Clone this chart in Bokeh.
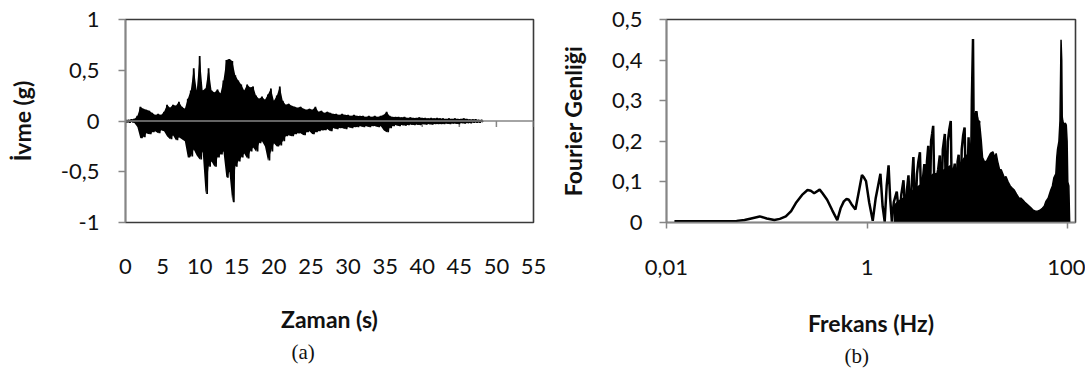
from bokeh.plotting import figure
from bokeh.layouts import row
from bokeh.models import Range1d, FixedTicker, CustomJSTickFormatter, Span, Title
from bokeh.embed import file_html
from bokeh.resources import INLINE

# ---------------- (a) acceleration record ----------------
DT = 0.4  # seconds between envelope readings
acc_upper = [
    0.01, 0.01, 0.015, 0.02, 0.05, 0.14, 0.12, 0.11, 0.10, 0.08,
    0.06, 0.07, 0.06, 0.09, 0.16, 0.13, 0.16, 0.15, 0.19, 0.14,
    0.12, 0.22, 0.30, 0.52, 0.30, 0.64, 0.30, 0.32, 0.52, 0.30,
    0.28, 0.31, 0.27, 0.40, 0.60, 0.61, 0.59, 0.45, 0.40, 0.36,
    0.30, 0.36, 0.33, 0.34, 0.25, 0.22, 0.24, 0.21, 0.26, 0.32,
    0.20, 0.25, 0.34, 0.20, 0.16, 0.17, 0.15, 0.14, 0.13, 0.14,
    0.12, 0.11, 0.12, 0.11, 0.14, 0.09, 0.10, 0.08, 0.09, 0.08,
    0.07, 0.07, 0.06, 0.07, 0.06, 0.06, 0.05, 0.06, 0.05, 0.05,
    0.05, 0.04, 0.05, 0.04, 0.05, 0.04, 0.05, 0.06, 0.09, 0.05,
    0.04, 0.04, 0.04, 0.035, 0.04, 0.03, 0.035, 0.03, 0.03, 0.035,
    0.03, 0.03, 0.025, 0.03, 0.025, 0.03, 0.025, 0.025, 0.02, 0.025,
    0.02, 0.025, 0.02, 0.02, 0.025, 0.02, 0.015, 0.015, 0.015, 0.01,
    0.01,
]
acc_lower = [
    -0.01, -0.015, -0.01, -0.02, -0.06, -0.17, -0.16, -0.12, -0.13, -0.11,
    -0.10, -0.12, -0.09, -0.10, -0.15, -0.18, -0.14, -0.19, -0.16, -0.18,
    -0.20, -0.36, -0.35, -0.28, -0.34, -0.38, -0.30, -0.72, -0.45, -0.40,
    -0.45, -0.36, -0.33, -0.30, -0.56, -0.50, -0.80, -0.45, -0.40, -0.36,
    -0.32, -0.37, -0.30, -0.26, -0.30, -0.22, -0.20, -0.25, -0.39, -0.30,
    -0.22, -0.25, -0.24, -0.20, -0.15, -0.14, -0.15, -0.13, -0.12, -0.12,
    -0.14, -0.11, -0.10, -0.13, -0.11, -0.10, -0.09, -0.09, -0.08, -0.10,
    -0.07, -0.08, -0.07, -0.07, -0.08, -0.06, -0.07, -0.06, -0.06, -0.05,
    -0.06, -0.05, -0.06, -0.05, -0.05, -0.06, -0.05, -0.09, -0.11, -0.07,
    -0.05, -0.04, -0.05, -0.04, -0.045, -0.04, -0.035, -0.04, -0.035, -0.04,
    -0.03, -0.035, -0.03, -0.035, -0.03, -0.03, -0.03, -0.03, -0.025, -0.03,
    -0.025, -0.025, -0.03, -0.02, -0.025, -0.02, -0.02, -0.015, -0.015, -0.015,
    -0.01,
]
time_ticks = [0, 5, 10, 15, 20, 25, 30, 35, 40, 45, 50, 55]
acc_ticks = [-1, -0.5, 0, 0.5, 1]

# ---------------- (b) Fourier amplitude spectrum ----------------
spec_f = [
    0.012, 0.02, 0.03, 0.04, 0.05, 0.06, 0.07, 0.085, 0.10, 0.119,
    0.135, 0.155, 0.175, 0.195, 0.225, 0.255, 0.275, 0.297, 0.337, 0.36,
    0.40, 0.45, 0.505, 0.545, 0.587, 0.625, 0.659, 0.70, 0.766, 0.82,
    0.89, 0.935, 0.977, 1.05, 1.14, 1.22, 1.31, 1.36, 1.43, 1.50,
    1.57, 1.64, 1.70, 1.77, 1.85, 1.98, 2.10, 2.20, 2.31, 2.42,
    2.50, 2.59, 2.70, 2.80, 2.90, 3.02, 3.15, 3.25, 3.37, 3.50,
    3.62, 3.73, 3.86, 3.96, 4.08, 4.22, 4.35, 4.47, 4.57, 4.75,
    4.95, 5.12, 5.32, 5.48, 5.70, 5.97, 6.15, 6.40, 6.62, 6.84,
    7.05, 7.25, 7.50, 7.80, 8.00, 8.20, 8.50, 8.80, 9.10, 9.40,
    9.80, 10.3, 10.8, 11.1, 11.4, 11.7, 12.0, 12.3, 12.8, 13.2,
]
spec_a = [
    0.003, 0.003, 0.003, 0.003, 0.004, 0.006, 0.010, 0.015, 0.010, 0.006,
    0.009, 0.015, 0.028, 0.048, 0.068, 0.080, 0.078, 0.072, 0.081, 0.072,
    0.056, 0.030, 0.006, 0.035, 0.052, 0.058, 0.056, 0.045, 0.032, 0.070,
    0.117, 0.110, 0.102, 0.050, 0.004, 0.060, 0.099, 0.120, 0.040, 0.002,
    0.090, 0.141, 0.060, 0.002, 0.050, 0.076, 0.010, 0.070, 0.104, 0.005,
    0.080, 0.116, 0.010, 0.100, 0.161, 0.005, 0.120, 0.150, 0.173, 0.010,
    0.110, 0.144, 0.010, 0.150, 0.189, 0.020, 0.200, 0.220, 0.238, 0.010,
    0.110, 0.130, 0.165, 0.020, 0.180, 0.218, 0.020, 0.200, 0.230, 0.250,
    0.020, 0.120, 0.145, 0.030, 0.150, 0.167, 0.010, 0.180, 0.215, 0.234,
    0.010, 0.210, 0.020, 0.300, 0.452, 0.060, 0.250, 0.274, 0.240, 0.250,
]
band_f = [
    1.85, 2.0, 2.3, 2.6, 2.9, 3.3, 3.7, 4.1, 4.6, 5.2,
    5.9, 6.8, 7.5, 8.2, 9.4, 10.3, 11.0, 12.3, 12.8, 13.2,
    13.8, 14.2, 14.8, 15.5, 16.2, 17.0, 18.0, 18.8, 19.4, 20.1,
    21.0, 21.8, 22.6, 23.4, 24.3, 25.5, 26.8, 28.0, 29.4, 31.0,
    32.8, 34.2, 35.6, 37.5, 39.5, 41.5, 43.1, 45.5, 48.0, 50.1,
    53.0, 56.0, 58.5, 60.8, 64.0, 68.0, 70.6, 73.0, 76.4, 78.0,
    79.4, 82.0, 84.0, 86.1, 87.5, 88.5, 89.7, 92.0, 95.0, 97.1,
    99.0, 100.5, 103.0, 105.0,
]
band_a = [
    0.04, 0.05, 0.06, 0.07, 0.08, 0.09, 0.10, 0.11, 0.12, 0.12,
    0.13, 0.14, 0.12, 0.14, 0.16, 0.17, 0.20, 0.274, 0.25, 0.25,
    0.20, 0.16, 0.15, 0.15, 0.16, 0.17, 0.174, 0.16, 0.17, 0.15,
    0.13, 0.13, 0.12, 0.11, 0.113, 0.10, 0.09, 0.085, 0.080, 0.07,
    0.06, 0.06, 0.056, 0.05, 0.045, 0.04, 0.036, 0.03, 0.028, 0.028,
    0.03, 0.035, 0.04, 0.052, 0.06, 0.08, 0.09, 0.11, 0.12, 0.16,
    0.18, 0.20, 0.25, 0.45, 0.40, 0.26, 0.25, 0.24, 0.245, 0.24,
    0.20, 0.10, 0.09, 0.0,
]
freq_ticks = [0.01, 1, 100]
amp_ticks = [0, 0.1, 0.2, 0.3, 0.4, 0.5]

# ---------------- styling ----------------
TICK_FONT = "Lato"
TICK_SIZE = "22px"
TITLE_SIZE = "23px"
AXIS_GRAY = "#868686"
TEXT_COL = "#111111"
OUTLINE = "#3a3a3a"

comma_fmt = CustomJSTickFormatter(code="return (Math.round(tick*10)/10).toString().replace('.', ',');")
log_fmt = CustomJSTickFormatter(code="return tick.toString().replace('.', ',');")


def style_common(p):
    p.xgrid.visible = False
    p.ygrid.visible = False
    p.outline_line_color = OUTLINE
    p.outline_line_width = 1.6
    p.background_fill_color = "white"
    p.border_fill_color = "white"
    for ax in (p.xaxis[0], p.yaxis[0]):
        ax.major_label_text_font = TICK_FONT
        ax.major_label_text_font_size = TICK_SIZE
        ax.major_label_text_color = TEXT_COL
        ax.axis_label_text_font = TICK_FONT
        ax.axis_label_text_font_size = TITLE_SIZE
        ax.axis_label_text_font_style = "bold"
        ax.axis_label_text_color = TEXT_COL
        ax.minor_tick_line_color = None
        ax.major_tick_in = 0


def caption(text, offset):
    return Title(text=text, align="left", offset=offset, standoff=5,
                 text_font="Liberation Serif", text_font_size="21px",
                 text_font_style="normal", text_color=TEXT_COL)


# ---------- left: time history ----------
p1 = figure(width=555, height=370, x_range=Range1d(0, 55), y_range=Range1d(-1, 1),
            output_backend="svg", toolbar_location=None,
            min_border_left=125, min_border_right=22, min_border_top=19, min_border_bottom=144)
style_common(p1)
p1.xaxis.ticker = FixedTicker(ticks=time_ticks, minor_ticks=[])
p1.xaxis.axis_line_color = None
p1.xaxis.major_tick_line_color = None
p1.xaxis.major_tick_out = 0
p1.xaxis.major_label_standoff = 36
p1.xaxis.axis_label = "Zaman (s)"
p1.xaxis.axis_label_standoff = 28

p1.yaxis.ticker = FixedTicker(ticks=acc_ticks, minor_ticks=[])
p1.yaxis.formatter = comma_fmt
p1.yaxis.axis_line_color = AXIS_GRAY
p1.yaxis.axis_line_width = 1.5
p1.yaxis.major_tick_line_color = AXIS_GRAY
p1.yaxis.major_tick_line_width = 1.5
p1.yaxis.major_tick_out = 7
p1.yaxis.major_label_standoff = 19
p1.yaxis.axis_label = "İvme (g)"
p1.yaxis.axis_label_standoff = 22

# zero axis line with its tick marks
p1.add_layout(Span(location=0, dimension="width", line_color=AXIS_GRAY, line_width=1.5))
p1.segment(x0=time_ticks, y0=[0] * len(time_ticks), x1=time_ticks, y1=[-0.06] * len(time_ticks),
           line_color=AXIS_GRAY, line_width=1.5)

acc_t = [round(i * DT, 2) for i in range(len(acc_upper))]
p1.varea(x=acc_t, y1=acc_lower, y2=acc_upper, fill_color="black")
xs, ys = [], []
for t, u, l in zip(acc_t, acc_upper, acc_lower):
    xs += [t, t + DT / 2]
    ys += [u, l]
p1.line(xs, ys, line_color="black", line_width=1.8)
p1.add_layout(caption("(a)", 166), "below")

# ---------- right: Fourier spectrum ----------
p2 = figure(width=530, height=370, x_axis_type="log", x_range=Range1d(0.01, 120),
            y_range=Range1d(0, 0.5), output_backend="svg", toolbar_location=None,
            min_border_left=108, min_border_right=10, min_border_top=17, min_border_bottom=147)
style_common(p2)
p2.xaxis.ticker = FixedTicker(ticks=freq_ticks, minor_ticks=[])
p2.xaxis.formatter = log_fmt
p2.xaxis.axis_line_color = AXIS_GRAY
p2.xaxis.axis_line_width = 1.5
p2.xaxis.major_tick_line_color = AXIS_GRAY
p2.xaxis.major_tick_line_width = 1.5
p2.xaxis.major_tick_out = 6
p2.xaxis.major_label_standoff = 31
p2.xaxis.axis_label = "Frekans (Hz)"
p2.xaxis.axis_label_standoff = 31

p2.yaxis.ticker = FixedTicker(ticks=amp_ticks, minor_ticks=[])
p2.yaxis.formatter = comma_fmt
p2.yaxis.axis_line_color = AXIS_GRAY
p2.yaxis.axis_line_width = 1.5
p2.yaxis.major_tick_line_color = AXIS_GRAY
p2.yaxis.major_tick_line_width = 1.5
p2.yaxis.major_tick_out = 7
p2.yaxis.major_label_standoff = 17
p2.yaxis.axis_label = "Fourier Genliği"
p2.yaxis.axis_label_standoff = 22

p2.varea(x=band_f, y1=[0] * len(band_f), y2=band_a, fill_color="black")
p2.line(band_f, band_a, line_color="black", line_width=1.5)
p2.line(spec_f, spec_a, line_color="black", line_width=2.5)
p2.add_layout(caption("(b)", 178), "below")

layout = row(p1, p2)
open("out.html", "w").write(file_html(layout, INLINE))
